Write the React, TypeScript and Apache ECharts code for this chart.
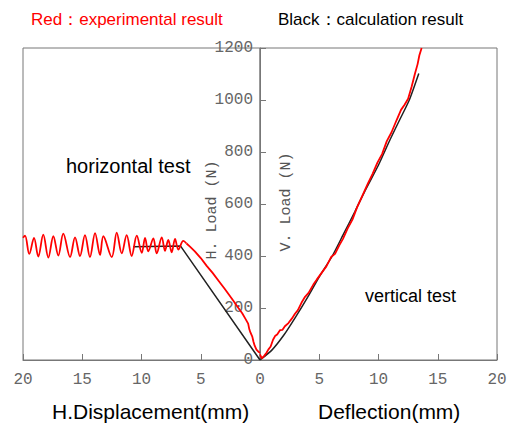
import React, { useEffect, useRef } from "react";
import * as echarts from "echarts";

// Left panel: horizontal test, [H. displacement (mm), H. load (N)]
const redHorizontalOscillation: number[][] = [
  [20, 470], [19.83, 478], [19.47, 408], [19.07, 470], [18.71, 398], [18.29, 482], [17.86, 394],
  [17.44, 476], [17.02, 402], [16.6, 486], [16.03, 396], [15.61, 472], [15.19, 400],
  [14.77, 480], [14.35, 396], [13.92, 488], [13.5, 404], [13.22, 476], [12.51, 396],
  [12.09, 490], [11.67, 410], [11.25, 480], [10.83, 400], [10.4, 478], [9.98, 412],
  [9.7, 470], [9.43, 418], [9.0, 468], [8.72, 410], [8.29, 472], [8.02, 420],
  [7.74, 462], [7.45, 414], [7.17, 466], [6.89, 425], [6.47, 458], [6.2, 448],
];
const redHorizontalDescent: number[][] = [
  [6.2, 448], [5.91, 436], [5.5, 418],
  [5.0, 392], [4.5, 362], [4.0, 335], [3.5, 305], [3.0, 275], [2.6, 250], [2.25, 228],
  [1.9, 205], [1.5, 180], [1.25, 160], [1.0, 140], [0.9, 118], [0.8, 105], [0.65, 90],
  [0.55, 70], [0.45, 55], [0.3, 40], [0.14, 32], [0, 28],
];
const blackHorizontal: number[][] = [
  [10.7, 436], [6.7, 438], [0, 0],
];

// Right panel: vertical test, [deflection (mm), V. load (N)]
const redVertical: number[][] = [
  [0, 22], [0.15, 6], [0.35, 16], [0.55, 28], [0.7, 40], [0.9, 52], [1.1, 78], [1.27, 92],
  [1.45, 98], [1.7, 115], [1.9, 116], [2.1, 130], [2.4, 142], [2.7, 160], [2.95, 178],
  [3.2, 192], [3.5, 220], [3.8, 243], [4.1, 258], [4.5, 290], [4.8, 310], [5.2, 335],
  [5.6, 360], [6.0, 396], [6.33, 408], [6.7, 442], [7.0, 466], [7.4, 506], [7.8, 540],
  [8.2, 588], [8.7, 638], [9.1, 678], [9.5, 716], [9.9, 758], [10.3, 792], [10.7, 842],
  [11.1, 876], [11.53, 923], [11.9, 962], [12.2, 982], [12.5, 1005], [12.8, 1052],
  [13.08, 1102], [13.3, 1138], [13.45, 1172], [13.64, 1200],
];
const blackVertical: number[][] = [
  [0, 0], [1, 38], [2, 95], [3, 165], [4, 240], [5, 320], [6.1, 400], [7, 480],
  [8, 570], [8.8, 645], [10, 750], [11, 850], [11.8, 925], [12.6, 1000], [13.4, 1102],
];

const xTicks = [0, 5, 10, 15, 20];
const yTicks = [0, 200, 400, 600, 800, 1000, 1200];

const MONO = "'Liberation Mono', 'DejaVu Sans Mono', monospace";
const SANS = "'Liberation Sans', Arial, sans-serif";

export default function App() {
  const ref = useRef<HTMLDivElement>(null);
  useEffect(() => {
    if (!ref.current) return;
    const chart = echarts.init(ref.current, undefined, { renderer: "svg" });
    const axisColor = "#777";
    const labelColor = "#666";
    const xAxisCommon = {
      type: "value" as const,
      min: xTicks[0],
      max: xTicks[xTicks.length - 1],
      interval: 5,
      axisLine: { show: true, lineStyle: { color: axisColor, width: 1 } },
      axisTick: { show: true, inside: true, length: 6, lineStyle: { color: axisColor } },
      splitLine: { show: false },
    };
    const red = { color: "#ff0000", width: 1.8 };
    chart.setOption({
      animation: false,
      grid: [
        { left: 23, top: 48, width: 237, height: 312, show: true, borderColor: axisColor, borderWidth: 1 },
        { left: 260, top: 48, width: 237, height: 312, show: true, borderColor: axisColor, borderWidth: 1 },
      ],
      xAxis: [
        {
          ...xAxisCommon,
          gridIndex: 0,
          inverse: true,
          axisLabel: { color: labelColor, fontFamily: MONO, fontSize: 16, margin: 12 },
        },
        {
          ...xAxisCommon,
          gridIndex: 1,
          axisLabel: {
            color: labelColor, fontFamily: MONO, fontSize: 16, margin: 12,
            formatter: (v: number) => (v === 0 ? "" : String(v)),
          },
        },
      ],
      yAxis: [
        {
          type: "value", gridIndex: 0, min: yTicks[0], max: yTicks[yTicks.length - 1], interval: 200,
          show: false,
        },
        {
          type: "value", gridIndex: 1, min: yTicks[0], max: yTicks[yTicks.length - 1], interval: 200,
          position: "left",
          axisLine: { show: true, lineStyle: { color: axisColor, width: 1 } },
          axisTick: { show: true, inside: true, length: 6, lineStyle: { color: axisColor } },
          axisLabel: {
            color: labelColor, fontFamily: MONO, fontSize: 16, margin: 7,
            formatter: (v: number) => String(v),
          },
          splitLine: { show: false },
        },
      ],
      series: [
        {
          type: "line", xAxisIndex: 0, yAxisIndex: 0, data: blackHorizontal, showSymbol: false,
          lineStyle: { color: "#222", width: 1.5 }, z: 2,
        },
        {
          type: "line", xAxisIndex: 0, yAxisIndex: 0, data: redHorizontalOscillation, showSymbol: false,
          smooth: 0.35, lineStyle: red, z: 3,
        },
        {
          type: "line", xAxisIndex: 0, yAxisIndex: 0, data: redHorizontalDescent, showSymbol: false,
          lineStyle: red, z: 3,
        },
        {
          type: "line", xAxisIndex: 1, yAxisIndex: 1, data: blackVertical, showSymbol: false,
          smooth: 0.2, lineStyle: { color: "#222", width: 1.5 }, z: 2,
        },
        {
          type: "line", xAxisIndex: 1, yAxisIndex: 1, data: redVertical, showSymbol: false,
          lineStyle: red, z: 3,
        },
      ],
      graphic: [
        { type: "text", left: 31, top: 11, style: { text: "Red：experimental result", fill: "#ff0000", font: `17px ${SANS}` } },
        { type: "text", left: 278, top: 11, style: { text: "Black：calculation result", fill: "#000", font: `17px ${SANS}` } },
        { type: "text", left: 66, top: 156, style: { text: "horizontal test", fill: "#000", font: `20px ${SANS}` } },
        { type: "text", left: 365, top: 287, style: { text: "vertical test", fill: "#000", font: `18px ${SANS}` } },
        { type: "text", left: 52, top: 401, style: { text: "H.Displacement(mm)", fill: "#000", font: `21px ${SANS}` } },
        { type: "text", left: 318, top: 401, style: { text: "Deflection(mm)", fill: "#000", font: `21px ${SANS}` } },
        {
          type: "text", x: 212, y: 210, rotation: Math.PI / 2,
          style: { text: "H. Load (N)", fill: "#555", font: `15px ${MONO}`, align: "center", verticalAlign: "middle" },
        },
        {
          type: "text", x: 286, y: 202, rotation: Math.PI / 2,
          style: { text: "V. Load (N)", fill: "#555", font: `15px ${MONO}`, align: "center", verticalAlign: "middle" },
        },
      ],
    });
    return () => chart.dispose();
  }, []);
  return <div ref={ref} style={{ width: 510, height: 423, position: "absolute", left: 0, top: 0 }} />;
}
